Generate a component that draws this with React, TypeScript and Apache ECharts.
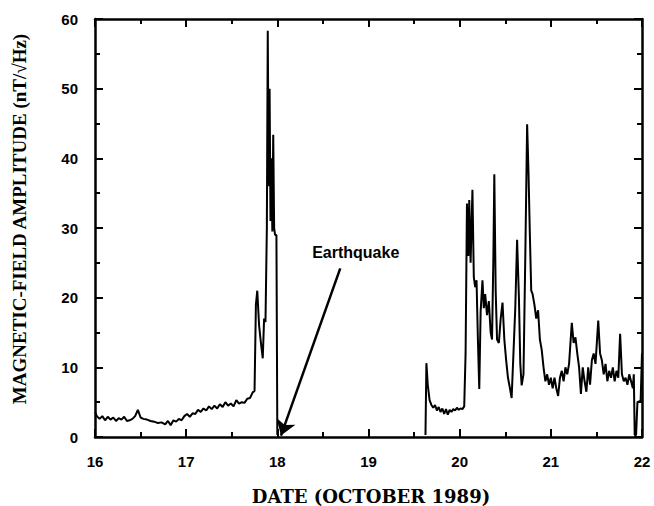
import React, { useEffect, useRef } from "react";
import * as echarts from "echarts";

// Pre-earthquake record (day of October 1989, amplitude nT/√Hz)
const preDays = [
  16.0, 16.02, 16.05, 16.08, 16.11, 16.14, 16.17, 16.2, 16.23, 16.26, 16.29, 16.32, 16.35, 16.38, 16.41, 16.44,
  16.47, 16.5, 16.53, 16.57, 16.61, 16.65, 16.69, 16.73, 16.77, 16.8, 16.83, 16.86, 16.89, 16.92, 16.95, 16.98,
  17.01, 17.04, 17.07, 17.1, 17.13, 17.16, 17.19, 17.22, 17.25, 17.28, 17.31, 17.34, 17.37, 17.4, 17.43, 17.46,
  17.49, 17.52, 17.55, 17.58, 17.61, 17.64, 17.67, 17.7, 17.73, 17.75, 17.765, 17.78, 17.8, 17.82, 17.84, 17.855,
  17.87, 17.885, 17.895, 17.905, 17.915, 17.925, 17.935, 17.945, 17.955, 17.965, 17.975, 17.99, 18.0,
];
const preAmp = [
  3.6, 3.0, 2.6, 3.0, 2.4, 2.9, 2.5, 2.8, 2.3, 2.7, 2.5, 2.9, 2.3, 2.4, 2.6, 3.0,
  3.9, 2.8, 2.6, 2.5, 2.3, 2.2, 2.0, 2.1, 1.8, 2.3, 1.7, 2.4, 2.2, 2.6, 2.4, 3.0,
  3.3, 2.9, 3.4, 3.3, 3.9, 3.6, 4.1, 3.8, 4.4, 4.0, 4.5, 4.1, 4.7, 4.3, 5.0, 4.5,
  4.8, 4.4, 5.3, 4.8, 5.0, 4.9, 5.5, 5.6, 6.4, 6.6, 19.0, 21.0, 16.0, 13.5, 11.3, 17.0,
  16.5, 30.0, 58.3, 36.0, 50.0, 31.0, 40.0, 29.5, 43.4, 30.0, 29.0, 29.0, 0.3,
];

// Post-earthquake record
const postDays = [
  19.625, 19.635, 19.65, 19.67, 19.69, 19.71, 19.73, 19.75, 19.77, 19.79, 19.81, 19.83, 19.85, 19.87, 19.89, 19.91,
  19.93, 19.95, 19.97, 19.99, 20.01, 20.03, 20.05, 20.065, 20.08, 20.095, 20.105, 20.12, 20.14, 20.155, 20.17, 20.185,
  20.2, 20.215, 20.23, 20.25, 20.265, 20.28, 20.3, 20.32, 20.34, 20.355, 20.37, 20.38, 20.395, 20.41, 20.43, 20.45,
  20.47, 20.49, 20.51, 20.53, 20.55, 20.57, 20.59, 20.61, 20.63, 20.65, 20.665, 20.68, 20.7, 20.72, 20.74, 20.755,
  20.77, 20.785, 20.8, 20.82, 20.84, 20.86, 20.88, 20.9, 20.92, 20.94, 20.96, 20.98, 21.0, 21.02, 21.04, 21.06,
  21.08, 21.1, 21.12, 21.14, 21.16, 21.18, 21.2, 21.23, 21.25, 21.27, 21.29, 21.31, 21.33, 21.35, 21.37, 21.39,
  21.41, 21.43, 21.45, 21.47, 21.49, 21.52, 21.54, 21.56, 21.58, 21.6, 21.62, 21.64, 21.66, 21.68, 21.7, 21.72,
  21.74, 21.76, 21.78, 21.8, 21.82, 21.84, 21.86, 21.88, 21.9, 21.91, 21.92, 21.935, 21.95, 21.985, 22.0,
];
const postAmp = [
  0.3, 10.6, 7.5, 5.3, 4.6, 4.2, 4.6, 3.8, 4.3, 3.6, 4.1, 3.3, 4.0, 3.2, 3.9, 3.6,
  4.0, 3.8, 4.2, 3.9, 4.1, 4.0, 4.4, 12.0, 33.5, 26.0, 34.0, 25.0, 35.5, 23.0, 21.5, 22.5,
  14.0, 6.9, 18.0, 22.5, 18.5, 20.5, 17.5, 19.5, 15.0, 14.0, 26.0, 37.7, 21.0, 14.0, 13.5, 17.0,
  19.3, 14.0, 11.0, 8.5, 7.1, 5.6, 12.0, 18.5, 28.3, 20.0, 10.5, 7.4, 9.0, 26.0, 44.9, 38.0,
  29.0, 21.0, 20.5, 19.0, 17.0, 18.2, 14.0, 12.5, 10.0, 8.0, 9.0, 7.5, 8.5, 7.0, 8.5, 7.0,
  5.9, 8.5, 9.5, 8.0, 10.0, 9.0, 10.5, 16.4, 13.5, 14.3, 12.0, 10.0, 6.2, 10.0, 8.0, 6.5,
  10.0, 7.5, 11.0, 12.0, 10.5, 16.7, 12.0, 11.0, 9.0, 10.5, 8.0, 9.5, 8.5, 10.0, 8.0, 9.5,
  8.5, 14.8, 9.0, 8.0, 8.5, 7.5, 9.0, 8.0, 7.0, 9.0, 0.3, 0.3, 5.0, 5.2, 12.0,
];

const xRange = { min: 16, max: 22, interval: 1 };
const yRange = { min: 0, max: 60, interval: 10 };

const quakeLabel = "Earthquake";
const quakeLabelAt = [18.86, 26.5];
const arrowFrom = [18.69, 24.2];
const arrowTo = [18.04, 0.2];

const xTitle = "DATE (OCTOBER 1989)";
const yTitle = "MAGNETIC-FIELD AMPLITUDE (nT/\u221AHz)";

export default function App() {
  const ref = useRef<HTMLDivElement>(null);
  useEffect(() => {
    if (!ref.current) return;
    const chart = echarts.init(ref.current, undefined, { renderer: "svg" });

    const axisOf = (range: any, position: string, labels: boolean) => ({
      type: "value",
      position,
      ...range,
      axisLine: { show: true, onZero: false, lineStyle: { color: "#000", width: 2.5 } },
      axisTick: { show: true, inside: true, length: 8, lineStyle: { color: "#000", width: 2 } },
      minorTick: { show: true, splitNumber: 2, length: 5, lineStyle: { color: "#000", width: 2 } },
      splitLine: { show: false },
      axisLabel: labels
        ? { show: true, color: "#000", fontFamily: "Liberation Sans", fontWeight: "bold", fontSize: 15, margin: 17 }
        : { show: false },
    });
    const lineSeries = (days: number[], amp: number[]) => ({
      type: "line",
      xAxisIndex: 0,
      yAxisIndex: 0,
      data: days.map((d, i) => [d, amp[i]]),
      showSymbol: false,
      symbol: "none",
      lineStyle: { color: "#000", width: 2 },
      silent: true,
    });

    chart.setOption({
      animation: false,
      backgroundColor: "#fff",
      grid: { left: 95, right: 12, top: 19, bottom: 69 },
      xAxis: [axisOf(xRange, "bottom", true), axisOf(xRange, "top", false)],
      yAxis: [axisOf(yRange, "left", true), axisOf(yRange, "right", false)],
      graphic: [
        {
          type: "text",
          x: 19,
          y: 219,
          rotation: Math.PI / 2,
          style: {
            text: yTitle,
            fill: "#000",
            font: "bold 19px 'Liberation Serif'",
            textAlign: "center",
            textVerticalAlign: "middle",
          },
        },
        {
          type: "text",
          x: 371,
          y: 496,
          style: {
            text: xTitle,
            fill: "#000",
            font: "bold 18px 'DejaVu Serif'",
            textAlign: "center",
            textVerticalAlign: "middle",
          },
        },
      ],
      series: [
        {
          ...lineSeries(preDays, preAmp),
          markPoint: {
            silent: true,
            symbol: "circle",
            symbolSize: 1,
            itemStyle: { color: "transparent" },
            data: [{ coord: quakeLabelAt, value: quakeLabel }],
            label: {
              show: true,
              position: "inside",
              formatter: quakeLabel,
              color: "#000",
              fontFamily: "Liberation Sans",
              fontWeight: "bold",
              fontSize: 16,
            },
          },
          markLine: {
            silent: true,
            symbol: ["none", "arrow"],
            symbolSize: 15,
            label: { show: false },
            lineStyle: { color: "#000", width: 2.5, type: "solid" },
            data: [[{ coord: arrowFrom }, { coord: arrowTo }]],
          },
        },
        lineSeries(postDays, postAmp),
      ],
    });
    return () => chart.dispose();
  }, []);
  return <div ref={ref} style={{ width: 654, height: 506, position: "absolute", left: 0, top: 0 }} />;
}
